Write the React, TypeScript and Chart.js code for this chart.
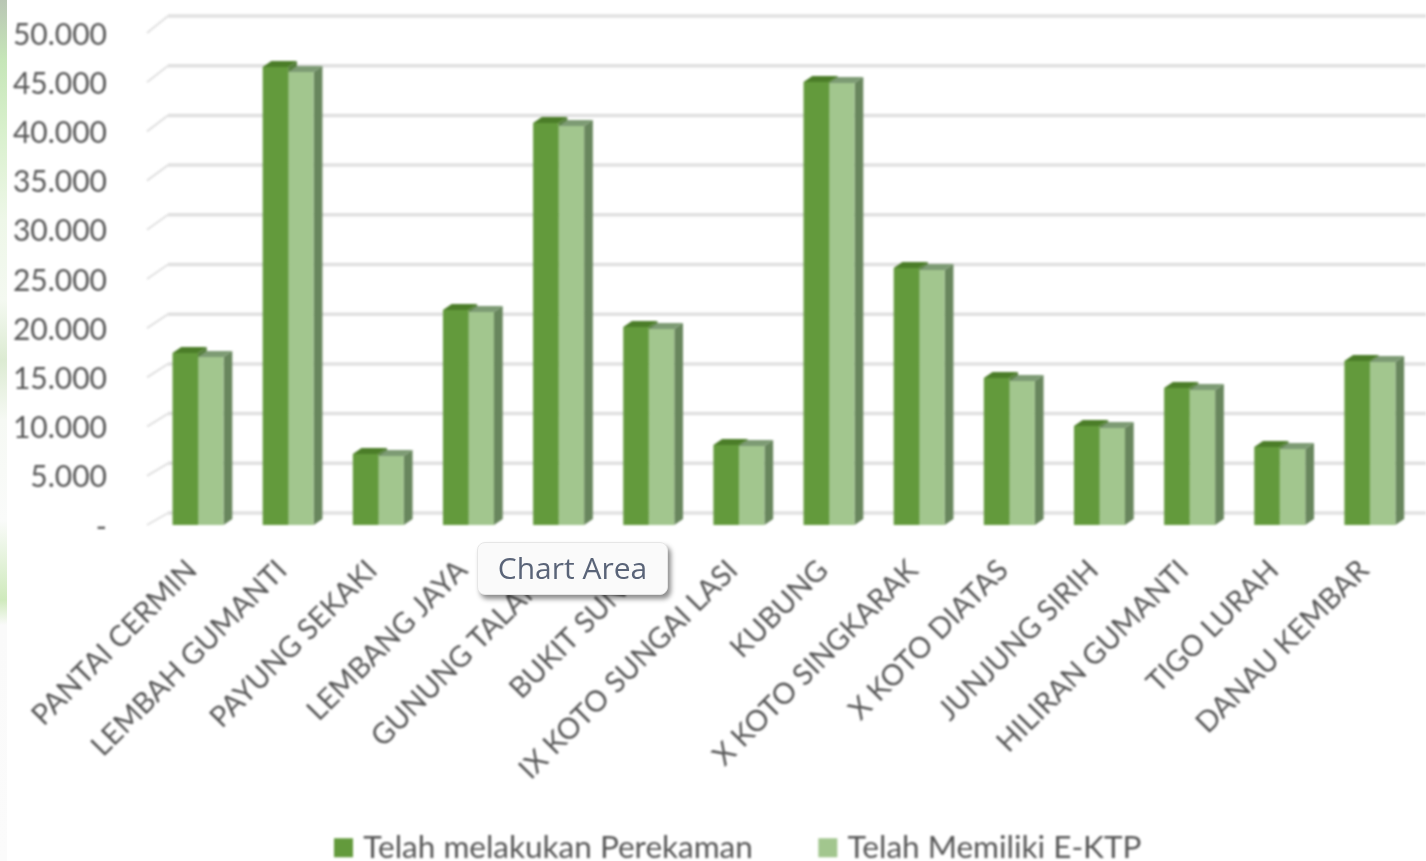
import React, { useEffect, useRef } from "react";
import { Chart, registerables } from "chart.js";

Chart.register(...registerables);

const categories = [
  "PANTAI CERMIN", "LEMBAH GUMANTI", "PAYUNG SEKAKI", "LEMBANG JAYA", "GUNUNG TALANG",
  "BUKIT SUNDI", "IX KOTO SUNGAI LASI", "KUBUNG", "X KOTO SINGKARAK", "X KOTO DIATAS",
  "JUNJUNG SIRIH", "HILIRAN GUMANTI", "TIGO LURAH", "DANAU KEMBAR",
];
const perekaman = [17480, 46540, 7210, 21850, 40850, 20120, 8130, 45010, 26110, 14940, 10060, 13920, 7920, 16660];
const ektp = [17070, 46030, 7010, 21640, 40540, 19910, 8030, 44910, 25910, 14630, 9860, 13720, 7720, 16560];
const seriesNames = ["Telah melakukan Perekaman", "Telah Memiliki E-KTP"];

const FONT = "Lato, 'Open Sans', sans-serif";
const TEXT = "#575757";
const GRID = "#e0e0e0";
const DEPTH_X = 8.7;
const DEPTH_Y = 6;
const LEGEND_HEIGHT = 100;
const LEGEND_SHIFT = 33;

const depthPlugin = {
  id: "depth",
  beforeInit(chart: any) {
    const fit = chart.legend.fit;
    chart.legend.fit = function () {
      fit.call(this);
      this.height = LEGEND_HEIGHT;
    };
  },
  afterLayout(chart: any) {
    chart.legend.left += LEGEND_SHIFT;
    chart.legend.right += LEGEND_SHIFT;
  },
  beforeDatasetsDraw(chart: any) {
    const { ctx, scales } = chart;
    const y = scales.y;
    ctx.save();
    ctx.strokeStyle = GRID;
    y.ticks.forEach((t: any) => {
      const fy = y.getPixelForValue(t.value);
      const by = fy - 12 - (5 * t.value) / 50000;
      ctx.lineWidth = 2;
      ctx.beginPath();
      ctx.moveTo(y.right - 6, fy);
      ctx.lineTo(y.right + 15, by);
      ctx.stroke();
      ctx.lineWidth = 3.5;
      ctx.beginPath();
      ctx.moveTo(y.right + 15, by);
      ctx.lineTo(chart.width, by);
      ctx.stroke();
    });
    const sides = ["#567f3e", "#68865d"];
    const tops = ["#4b7d28", "#7d9b74"];
    [0, 1].forEach((d) => {
      chart.getDatasetMeta(d).data.forEach((bar: any) => {
        const p = bar.getProps(["x", "y", "base", "width"], true);
        const l = p.x - p.width / 2;
        const r = p.x + p.width / 2;
        ctx.fillStyle = sides[d];
        ctx.beginPath();
        ctx.moveTo(r, p.y);
        ctx.lineTo(r + DEPTH_X, p.y - DEPTH_Y);
        ctx.lineTo(r + DEPTH_X, p.base - DEPTH_Y);
        ctx.lineTo(r, p.base);
        ctx.closePath();
        ctx.fill();
        ctx.fillStyle = tops[d];
        ctx.beginPath();
        ctx.moveTo(l, p.y);
        ctx.lineTo(l + DEPTH_X, p.y - DEPTH_Y);
        ctx.lineTo(r + DEPTH_X, p.y - DEPTH_Y);
        ctx.lineTo(r, p.y);
        ctx.closePath();
        ctx.fill();
      });
    });
    ctx.restore();
  },
};

export default function App() {
  const ref = useRef<HTMLCanvasElement>(null);
  useEffect(() => {
    const chart = new Chart(ref.current!, {
      type: "bar",
      plugins: [depthPlugin],
      data: {
        labels: categories,
        datasets: [
          { label: seriesNames[0], data: perekaman, backgroundColor: "#639a3c", borderWidth: 0 },
          { label: seriesNames[1], data: ektp, backgroundColor: "#a2c68e", borderWidth: 0 },
        ],
      },
      options: {
        responsive: false,
        animation: false,
        layout: { padding: { top: 33, right: 11, left: 0, bottom: 0 } },
        datasets: { bar: { categoryPercentage: 0.566, barPercentage: 1 } },
        scales: {
          x: {
            afterFit(s: any) {
              s.height = 236;
              s._computeLabelArea = () => undefined;
            },
            grid: { display: false },
            border: { display: false },
            ticks: {
              autoSkip: false,
              minRotation: 45,
              maxRotation: 45,
              padding: 20,
              labelOffset: -6,
              color: TEXT,
              font: { family: FONT, size: 29 },
            },
          },
          y: {
            min: 0,
            max: 50000,
            afterFit(s: any) {
              s.width = 153;
              s.paddingTop = 0;
              s.paddingBottom = 0;
            },
            grid: { display: false },
            border: { display: false },
            ticks: {
              stepSize: 5000,
              padding: 38,
              labelOffset: 2,
              color: TEXT,
              font: { family: FONT, size: 30 },
              callback: (v: any) => (v === 0 ? "-" : Number(v).toLocaleString("de-DE")),
            },
          },
        },
        plugins: {
          tooltip: { enabled: false },
          legend: {
            position: "bottom",
            labels: {
              color: TEXT,
              font: { family: FONT, size: 31.5 },
              padding: 71,
              boxWidth: 8,
              boxHeight: 8,
              generateLabels: (c: any) =>
                c.data.datasets.map((d: any, i: number) => ({
                  text: d.label,
                  fillStyle: d.backgroundColor,
                  strokeStyle: d.backgroundColor,
                  lineWidth: 11,
                  fontColor: TEXT,
                  datasetIndex: i,
                })),
            },
          },
        },
      } as any,
    });
    return () => chart.destroy();
  }, []);
  return (
    <div style={{ position: "fixed", left: 0, top: 0, width: 1426, height: 861, background: "#fff", overflow: "hidden" }}>
      <canvas ref={ref} width={1426} height={861} style={{ display: "block", filter: "blur(0.8px)" }} />
      <div
        style={{
          position: "absolute", left: 0, top: 0, width: 7, height: 861,
          background:
            "linear-gradient(180deg,#b9c6b4 0,#c6e6b8 60px,#d8f0cc 130px,#eef7e8 220px,#f4f9f1 300px,#dcebd2 360px,#f6f9f4 420px,#fafbfa 520px,#cfeabc 600px,#fafafa 625px,#fbfbfb 861px)",
        }}
      />
      <div
        style={{
          position: "absolute", left: 477, top: 542, width: 191, height: 53, boxSizing: "border-box",
          background: "#fafafa", border: "1px solid #e6e6e6", borderRadius: 8,
          boxShadow: "3px 4px 5px rgba(0,0,0,0.45)",
          fontFamily: "'Open Sans', sans-serif", fontSize: 30, lineHeight: "50px", textAlign: "center",
          color: "#5a6478", filter: "blur(0.5px)",
        }}
      >
        Chart Area
      </div>
    </div>
  );
}
